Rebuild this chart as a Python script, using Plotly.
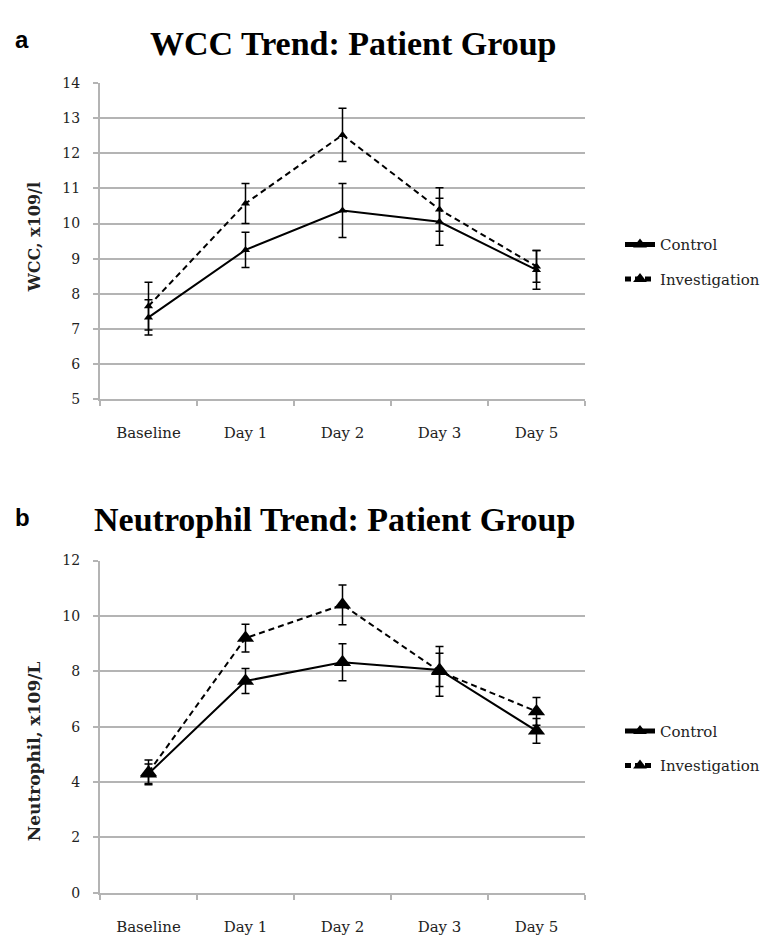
import plotly.graph_objects as go

categories = ["Baseline", "Day 1", "Day 2", "Day 3", "Day 5"]

wcc_control = [7.33, 9.25, 10.37, 10.05, 8.68]
wcc_control_err = [0.50, 0.50, 0.77, 0.67, 0.55]
wcc_invest = [7.65, 10.57, 12.52, 10.40, 8.78]
wcc_invest_err = [0.68, 0.57, 0.76, 0.62, 0.45]

neu_control = [4.30, 7.65, 8.33, 8.05, 5.85]
neu_control_err = [0.35, 0.45, 0.67, 0.60, 0.45]
neu_invest = [4.35, 9.20, 10.40, 8.00, 6.55]
neu_invest_err = [0.45, 0.50, 0.72, 0.90, 0.50]

W, H = 772, 940
SERIF = "DejaVu Serif"
TITLE_FONT = "Liberation Serif"
GRID = "#b4b4b4"


def px(x):
    return x / W


def py(y):
    return 1 - y / H


fig = go.Figure()


def add_pair(ctrl, ctrl_err, inv, inv_err, xa, ya, legend, msize):
    fig.add_trace(go.Scatter(
        x=categories, y=ctrl, name="Control", mode="lines+markers",
        xaxis=xa, yaxis=ya, legend=legend, legendgroup="c" + legend,
        line=dict(color="black", width=2),
        marker=dict(symbol="triangle-up", size=msize, color="black"),
        error_y=dict(type="data", array=ctrl_err, visible=True,
                     color="black", thickness=1.5, width=4),
    ))
    fig.add_trace(go.Scatter(
        x=categories, y=inv, name="Investigation", mode="lines+markers",
        xaxis=xa, yaxis=ya, legend=legend, legendgroup="i" + legend,
        line=dict(color="black", width=2, dash="6px,4px"),
        marker=dict(symbol="triangle-up", size=msize, color="black"),
        error_y=dict(type="data", array=inv_err, visible=True,
                     color="black", thickness=1.5, width=4),
    ))


add_pair(wcc_control, wcc_control_err, wcc_invest, wcc_invest_err, "x", "y", "legend", 8)
add_pair(neu_control, neu_control_err, neu_invest, neu_invest_err, "x2", "y2", "legend2", 15)

xcommon = dict(
    type="category", range=[-0.5, 4.5], tickson="boundaries",
    showgrid=False, showline=True, linecolor=GRID, linewidth=2,
    ticks="outside", ticklen=5, tickwidth=2, tickcolor=GRID,
    tickfont=dict(family=SERIF, size=15, color="#222"),
    ticklabelstandoff=19, zeroline=False,
)
ycommon = dict(
    showgrid=True, gridcolor=GRID, gridwidth=2,
    showline=True, linecolor=GRID, linewidth=2,
    ticks="outside", ticklen=5, tickwidth=2, tickcolor=GRID,
    tickfont=dict(family=SERIF, size=14, color="#222"),
    ticklabelstandoff=10, zeroline=False,
)

legend_common = dict(
    font=dict(family=SERIF, size=15, color="#222"),
    bgcolor="rgba(0,0,0,0)", tracegroupgap=12, itemsizing="constant",
    xanchor="left", yanchor="middle", x=px(612),
)

fig.update_layout(
    width=W, height=H,
    margin=dict(l=0, r=0, t=0, b=0),
    paper_bgcolor="white", plot_bgcolor="white",
    xaxis=dict(domain=[px(92), px(577)], anchor="y", **xcommon),
    yaxis=dict(domain=[py(390), py(68)], anchor="x", range=[5, 14], dtick=1, **ycommon),
    xaxis2=dict(domain=[px(92), px(577)], anchor="y2", **xcommon),
    yaxis2=dict(domain=[py(892), py(554)], anchor="x2", range=[0, 12], dtick=2, **ycommon),
    legend=dict(y=py(250), **legend_common),
    legend2=dict(y=py(745), **legend_common),
    annotations=[
        dict(text="<b>a</b>", x=px(5), y=py(24), xref="paper", yref="paper",
             xanchor="left", yanchor="middle", showarrow=False,
             font=dict(family="Liberation Sans", size=24, color="black")),
        dict(text="<b>WCC Trend: Patient Group</b>", x=px(345), y=py(28), xref="paper", yref="paper",
             xanchor="center", yanchor="middle", showarrow=False,
             font=dict(family=TITLE_FONT, size=34, color="black")),
        dict(text="<b>b</b>", x=px(5), y=py(510), xref="paper", yref="paper",
             xanchor="left", yanchor="middle", showarrow=False,
             font=dict(family="Liberation Sans", size=24, color="black")),
        dict(text="<b>Neutrophil Trend: Patient Group</b>", x=px(326), y=py(512), xref="paper", yref="paper",
             xanchor="center", yanchor="middle", showarrow=False,
             font=dict(family=TITLE_FONT, size=34, color="black")),
        dict(text="<b>WCC, x109/l</b>", x=px(26), y=py(225), xref="paper", yref="paper",
             xanchor="center", yanchor="middle", showarrow=False, textangle=-90,
             font=dict(family=SERIF, size=16, color="#222")),
        dict(text="<b>Neutrophil, x109/L</b>", x=px(26), y=py(748), xref="paper", yref="paper",
             xanchor="center", yanchor="middle", showarrow=False, textangle=-90,
             font=dict(family=SERIF, size=17, color="#222")),
    ],
)

fig.write_html("out.html")
